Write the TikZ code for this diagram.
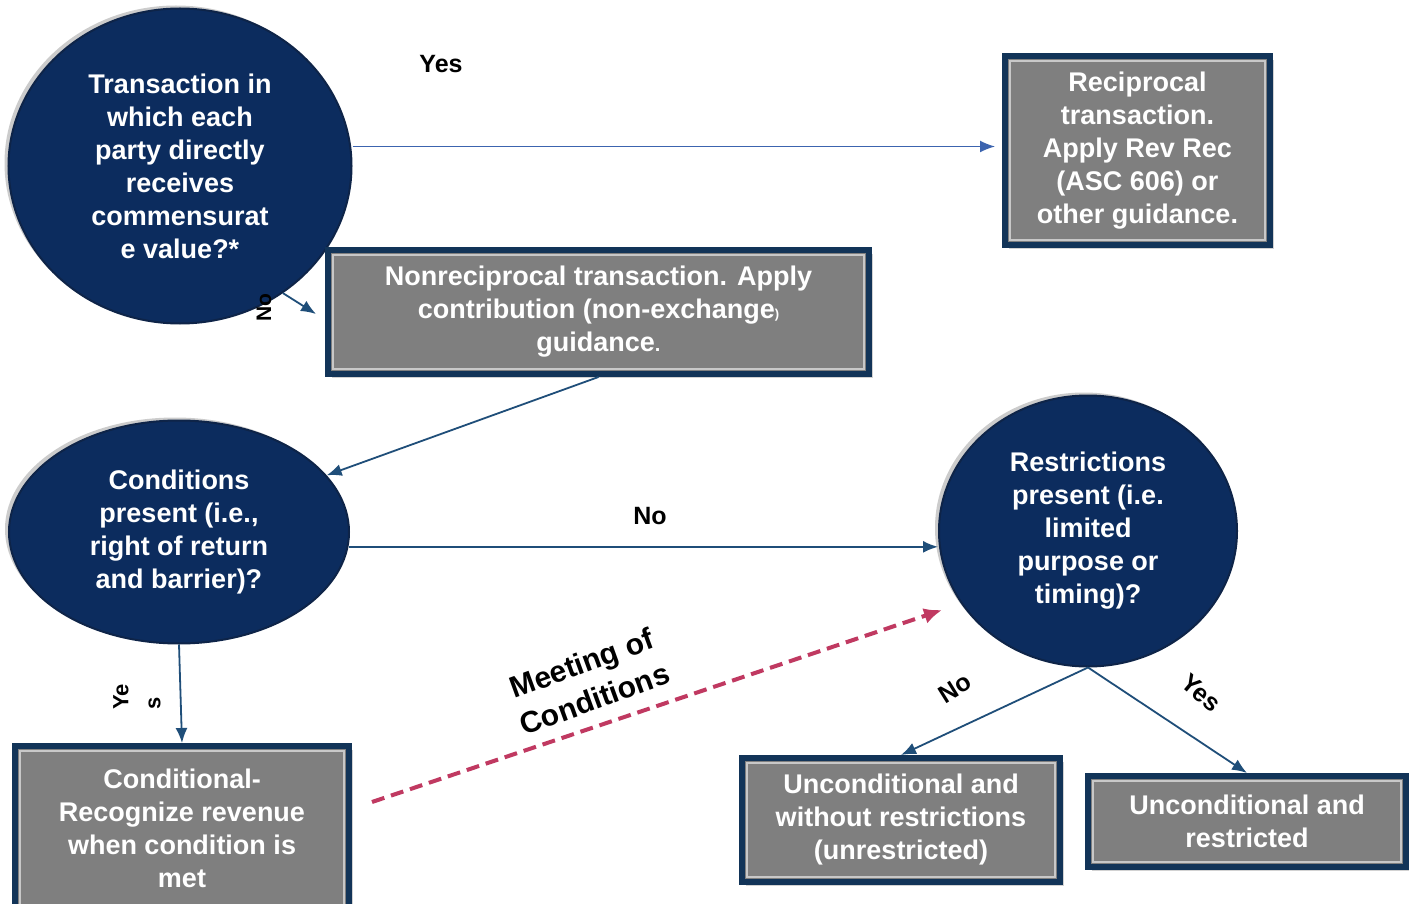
\documentclass[tikz,border=0pt]{standalone}
\usepackage{fontspec}
\setmainfont{Liberation Sans}
\usetikzlibrary{shapes.geometric,arrows.meta,shadows}
\definecolor{navy}{RGB}{12,44,94}
\definecolor{navyedge}{RGB}{14,36,72}
\definecolor{boxgray}{RGB}{127,127,127}
\definecolor{boxedge}{RGB}{18,52,88}
\definecolor{framegray}{RGB}{200,200,200}
\definecolor{arrowblue}{RGB}{31,78,121}
\definecolor{yesblue}{RGB}{60,100,175}
\definecolor{dashred}{RGB}{192,57,97}
\begin{document}
\begin{tikzpicture}[x=1pt,y=-1pt,
  every node/.style={font=\bfseries\fontsize{27}{33}\selectfont},
  decision/.style={ellipse, fill=navy, draw=navyedge, line width=2pt, text=white,
    align=center, inner sep=0pt,
    drop shadow={shadow xshift=-4pt, shadow yshift=3pt, opacity=0.4}},
  outcome/.style={rectangle, fill=boxgray, draw=boxedge, line width=6pt, text=white,
    align=center, inner sep=0pt,
    drop shadow={shadow xshift=4pt, shadow yshift=-4pt, opacity=0.35}},
  innerframe/.style={draw=framegray, line width=1.2pt},
  conn/.style={draw=arrowblue, line width=1.8pt, -{Latex[length=15pt,width=12pt]}},
  yesconn/.style={draw=yesblue, line width=1.5pt, -{Latex[length=15pt,width=12pt]}},
  meetconn/.style={draw=dashred, line width=4pt, dash pattern=on 13pt off 7pt,
    -{Latex[length=18pt,width=16pt]}},
  lbl/.style={text=black, font=\bfseries\fontsize{25}{28}\selectfont},
]
\fill[white] (0,0) rectangle (1409,904);
\useasboundingbox (0,0) rectangle (1409,904);

% decisions
\node[decision, minimum width=343pt, minimum height=315pt] (e1) at (180,166)
  {Transaction in\\which each\\party directly\\receives\\commensurat\\e value?*};
\node[decision, minimum width=340pt, minimum height=223pt] (e2) at (179,532)
  {Conditions\\present (i.e.,\\right of return\\and barrier)?};
\node[decision, minimum width=298pt, minimum height=271pt] (e3) at (1088,531)
  {Restrictions\\present (i.e.\\limited\\purpose or\\timing)?};

% outcomes
\node[outcome, minimum width=265pt, minimum height=189pt] (rec) at (1137.5,150.5)
  {Reciprocal\\transaction.\\Apply Rev Rec\\(ASC 606) or\\other guidance.};
\node[outcome, minimum width=541pt, minimum height=124pt] (nonrec) at (598.5,312)
  {Nonreciprocal transaction. Apply\\contribution (non-exchange{\fontsize{13}{13}\selectfont )}\\guidance{\fontsize{20}{20}\selectfont .}};
\node[outcome, minimum width=334pt, minimum height=164pt] (cond) at (182,828)
  {Conditional-\\Recognize revenue\\when condition is\\met};
\node[outcome, minimum width=318pt, minimum height=124pt] (unc1) at (901,820)
  {Unconditional and\\without restrictions\\(unrestricted)};
\node[outcome, minimum width=318pt, minimum height=91pt] (unc2) at (1247,821.5)
  {Unconditional and\\restricted};

\foreach \n in {rec,nonrec,cond,unc1,unc2}
  \draw[innerframe] ([xshift=8pt,yshift=-8pt]\n.north west) rectangle ([xshift=-8pt,yshift=8pt]\n.south east);

% connectors
\coordinate (yestip) at ([xshift=-7pt,yshift=4pt]rec.west);
\draw[yesconn] (e1.east |- yestip) -- (yestip);
\coordinate (noend) at (316,314);
\draw[conn] (e1.-51) -- (noend);
\draw[conn] (nonrec.south) -- (e2.21);
\draw[conn] (e2.-5) -- (e2.-5 -| e3.west);
\draw[conn] (e2.south) -- (cond.north);
\draw[conn] (e3.south) -- (unc1.north);
\draw[conn] (e3.south) -- (unc2.north);
\coordinate (mstart) at (372,802);
\coordinate (mend) at (942,610);
\draw[meetconn] (mstart) -- (mend);

% labels
\node[lbl] (lyes1) at (441,64) {Yes};
\node[lbl, rotate=90, font=\bfseries\fontsize{21}{22}\selectfont] (lno1) at (264,308) {No};
\node[lbl] (lno2) at (650,516) {No};
\node[lbl, rotate=90, align=left, font=\bfseries\fontsize{22}{32}\selectfont] (lyes2) at (137,697) {Ye\\s};
\node[lbl, rotate=20, align=center, font=\bfseries\fontsize{30}{38}\selectfont] (lmeet) at (588,681) {Meeting of\\Conditions};
\node[lbl, rotate=32] (lno3) at (955,688) {No};
\node[lbl, rotate=-40] (lyes3) at (1201,693) {Yes};
\end{tikzpicture}
\end{document}
